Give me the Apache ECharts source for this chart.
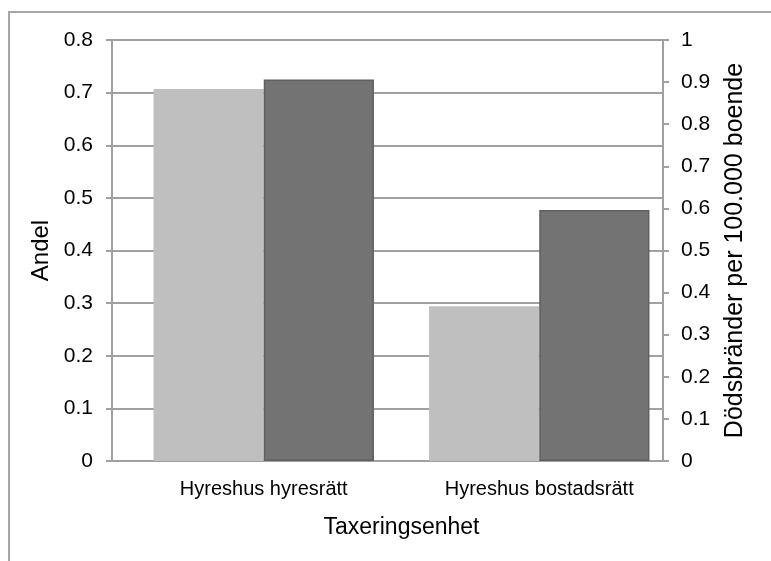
<!DOCTYPE html>
<html lang="sv">
<head>
    <meta charset="UTF-8">
    <title>Andel och dödsbränder</title>
    <style>
        html,body{
            width: 100%;
            height: 100%;
            margin: 0;
            padding: 0;
            background: #fff;
        }
        #chart{
            width: 771px;
            height: 561px;
        }
    </style>
</head>
<body>
    <div id="chart"></div>
    <script src="https://cdn.jsdelivr.net/npm/echarts@6/dist/echarts.min.js"></script>
    <script>
        // data
        var categories = ['Hyreshus hyresrätt', 'Hyreshus bostadsrätt'];
        var andel = [0.707, 0.294];          // left axis
        var dodsbrander = [0.906, 0.596];    // right axis
        var leftTicks = [0, 0.1, 0.2, 0.3, 0.4, 0.5, 0.6, 0.7, 0.8];
        var rightTicks = [0, 0.1, 0.2, 0.3, 0.4, 0.5, 0.6, 0.7, 0.8, 0.9, 1];

        var font = 'Liberation Sans, Arial, sans-serif';
        var axisGray = '#a0a0a0';
        var fmt = function (v) { return String(+v.toFixed(1)); };

        var myChart = echarts.init(document.getElementById('chart'));
        var option = {
            backgroundColor: '#fff',
            animation: false,
            // grid 0 = axes + gridlines, grid 1 = bars (bars sit a bit right of centre in the original)
            grid: [
                { left: 112, right: 108, top: 40, bottom: 100 },
                { left: 126, right: 94, top: 40, bottom: 100 }
            ],
            graphic: [{
                // outer chart border (cropped at right and bottom)
                type: 'rect',
                shape: { x: 9, y: 12, width: 800, height: 600 },
                style: { fill: 'none', stroke: '#a6a6a6', lineWidth: 2 },
                silent: true
            }],
            xAxis: [{
                gridIndex: 0,
                type: 'category',
                data: categories,
                axisLine: { lineStyle: { color: axisGray, width: 2 } },
                axisTick: { show: false },
                axisLabel: { show: false }
            }, {
                gridIndex: 1,
                type: 'category',
                data: categories,
                name: 'Taxeringsenhet',
                nameLocation: 'middle',
                nameGap: 55,
                nameTextStyle: { fontFamily: font, fontSize: 23, color: '#000' },
                axisLine: { show: false },
                axisTick: { show: false },
                axisLabel: { fontFamily: font, fontSize: 20, color: '#000', margin: 18 }
            }],
            yAxis: [{
                gridIndex: 0,
                type: 'value',
                min: leftTicks[0],
                max: leftTicks[leftTicks.length - 1],
                interval: 0.1,
                name: 'Andel',
                nameLocation: 'middle',
                nameGap: 57,
                nameTextStyle: { fontFamily: font, fontSize: 24, color: '#000' },
                axisLine: { show: true, lineStyle: { color: axisGray, width: 2 } },
                axisTick: { show: true, inside: false, length: 6, lineStyle: { color: axisGray, width: 2 } },
                axisLabel: { fontFamily: font, fontSize: 21, color: '#000', margin: 19, formatter: fmt },
                splitLine: { show: true, lineStyle: { color: axisGray, width: 2 } }
            }, {
                gridIndex: 0,
                type: 'value',
                min: rightTicks[0],
                max: rightTicks[rightTicks.length - 1],
                interval: 0.1,
                name: 'Dödsbränder per 100.000 boende',
                nameLocation: 'middle',
                nameGap: 60,
                nameRotate: 90,
                nameTextStyle: { fontFamily: font, fontSize: 25, color: '#000' },
                axisLine: { show: true, lineStyle: { color: axisGray, width: 2 } },
                axisTick: { show: true, inside: false, length: 6, lineStyle: { color: axisGray, width: 2 } },
                axisLabel: { fontFamily: font, fontSize: 21, color: '#000', margin: 18, formatter: fmt },
                splitLine: { show: false }
            }, {
                gridIndex: 1,
                type: 'value',
                min: leftTicks[0],
                max: leftTicks[leftTicks.length - 1],
                show: false
            }, {
                gridIndex: 1,
                type: 'value',
                min: rightTicks[0],
                max: rightTicks[rightTicks.length - 1],
                show: false
            }],
            series: [{
                name: 'Andel',
                type: 'bar',
                xAxisIndex: 1,
                yAxisIndex: 2,
                data: andel,
                barGap: '0%',
                barCategoryGap: '20%',
                itemStyle: { color: '#bfbfbf' }
            }, {
                name: 'Dödsbränder per 100.000 boende',
                type: 'bar',
                xAxisIndex: 1,
                yAxisIndex: 3,
                data: dodsbrander,
                itemStyle: { color: '#737373', borderColor: '#5f5f5f', borderWidth: 1.5 }
            }]
        };
        myChart.setOption(option);
    </script>
</body>
</html>
